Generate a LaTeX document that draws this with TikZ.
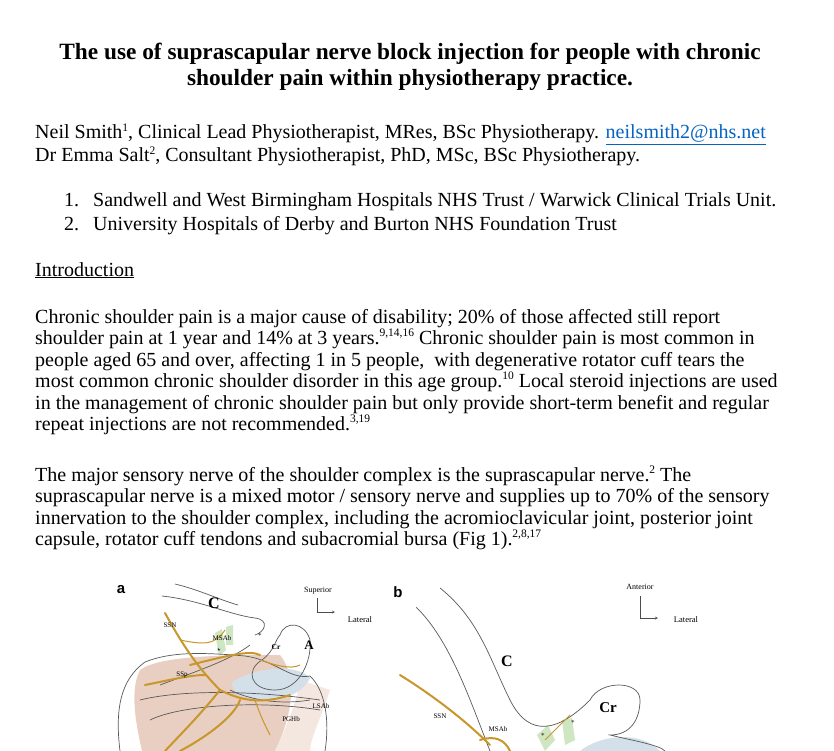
\documentclass[tikz,border=0pt]{standalone}
\usepackage{fontspec}
\setmainfont{Liberation Serif}
\newfontfamily\arialf{Liberation Sans}
\newcommand\myul[1]{$\underline{\hbox{#1}}$}
\newcommand\sps[1]{\raisebox{0.36em}{\fontsize{11.5}{11.5}\selectfont #1}}
\begin{document}
\begin{tikzpicture}[x=1pt,y=-1pt,
  tl/.style={anchor=base west,inner sep=0pt,text height=12pt,text depth=3pt,font=\fontsize{20}{22}\selectfont},
  ttl/.style={anchor=base,inner sep=0pt,font=\fontsize{23.3}{26}\selectfont\bfseries},
  outline/.style={draw=black!65,line width=0.7pt},
  nerve/.style={draw=nerveC,line width=2pt,line cap=round},
  twig/.style={draw=nerveC,line width=1pt},
  tiny/.style={inner sep=0pt,font=\fontsize{7}{7}\selectfont},
  big/.style={inner sep=0pt,font=\fontsize{16}{16}\selectfont\bfseries}]
\definecolor{linkC}{HTML}{0563C1}
\definecolor{nerveC}{HTML}{C8962A}
\definecolor{pinkC}{HTML}{E8CFC2}
\definecolor{blueC}{HTML}{D3E0EA}
\definecolor{greenC}{HTML}{CFE6C2}
\useasboundingbox (0,0) rectangle (834,751);
\fill[white] (0,0) rectangle (834,751);
% title
\node[ttl] (t1) at (410,60) {The use of suprascapular nerve block injection for people with chronic};
\node[ttl] (t2) at (410,86) {shoulder pain within physiotherapy practice.};
% authors
\node[tl] (a1) at (35,139) {Neil Smith\sps{1}, Clinical Lead Physiotherapist, MRes, BSc Physiotherapy. \textcolor{linkC}{\myul{neilsmith2@nhs.net}}};
\node[tl] (a2) at (35,162) {Dr Emma Salt\sps{2}, Consultant Physiotherapist, PhD, MSc, BSc Physiotherapy.};
\node[tl] (n1) at (64,207) {1.};
\node[tl] (l1) at (93,207) {Sandwell and West Birmingham Hospitals NHS Trust / Warwick Clinical Trials Unit.};
\node[tl] (n2) at (64,230) {2.};
\node[tl] (l2) at (93,230) {University Hospitals of Derby and Burton NHS Foundation Trust};
\node[tl] (intro) at (35,276) {\myul{Introduction}};
% paragraph 1
\node[tl] (p1) at (35,323) {Chronic shoulder pain is a major cause of disability; 20\% of those affected still report};
\node[tl] (p2) at (35,344) {shoulder pain at 1 year and 14\% at 3 years.\sps{9,14,16} Chronic shoulder pain is most common in};
\node[tl] (p3) at (35,366) {people aged 65 and over, affecting 1 in 5 people,\ \ with degenerative rotator cuff tears the};
\node[tl] (p4) at (35,387) {most common chronic shoulder disorder in this age group.\sps{10} Local steroid injections are used};
\node[tl] (p5) at (35,409) {in the management of chronic shoulder pain but only provide short-term benefit and regular};
\node[tl] (p6) at (35,430) {repeat injections are not recommended.\sps{3,19}};
% paragraph 2
\node[tl] (q1) at (35,481) {The major sensory nerve of the shoulder complex is the suprascapular nerve.\sps{2} The};
\node[tl] (q2) at (35,502) {suprascapular nerve is a mixed motor / sensory nerve and supplies up to 70\% of the sensory};
\node[tl] (q3) at (35,524) {innervation to the shoulder complex, including the acromioclavicular joint, posterior joint};
\node[tl] (q4) at (35,545) {capsule, rotator cuff tendons and subacromial bursa (Fig 1).\sps{2,8,17}};
% ---------- figure a ----------
\begin{scope}
\clip (100,575) rectangle (834,751);
\fill[pinkC] (142,751) .. controls (135,720) and (130,690) .. (140,670) .. controls (160,655) and (230,655) .. (280,655) .. controls (300,680) and (290,720) .. (275,751) -- cycle;
\fill[pinkC!50] (275,751) .. controls (290,720) and (300,690) .. (300,680) -- (330,690) .. controls (320,720) and (310,740) .. (310,751) -- cycle;
\fill[blueC] (232,682) .. controls (260,665) and (300,665) .. (310,678) .. controls (305,690) and (290,697) .. (280,698) .. controls (255,700) and (232,700) .. (232,682) -- cycle;
\fill[greenC] (215,633) -- (222,629) -- (226,650) -- (219,656) -- cycle;
\fill[greenC] (226,627) -- (233,625) -- (233,645) -- (226,645) -- cycle;
\draw[outline] (120,751) .. controls (115,710) and (120,680) .. (145,662) .. controls (170,652) and (200,652) .. (245,656) .. controls (275,660) and (290,680) .. (310,676) .. controls (325,690) and (330,720) .. (325,751);
\draw[outline] (140,700) .. controls (180,690) and (250,690) .. (320,700);
\draw[outline] (150,720) .. controls (180,705) and (260,700) .. (320,710);
\draw[outline] (162,596) .. controls (200,600) and (230,615) .. (255,618) .. controls (270,620) and (265,632) .. (255,635);
\draw[outline] (175,584) .. controls (200,590) and (220,600) .. (238,605);
\draw[outline] (280,635) .. controls (285,620) and (305,622) .. (310,640) .. controls (312,660) and (300,690) .. (275,690) .. controls (250,690) and (245,670) .. (262,660) .. controls (275,650) and (275,640) .. (280,635) -- cycle;
\draw[outline] (160,685) .. controls (200,670) and (230,660) .. (250,645);
\draw[outline] (230,690) .. controls (250,700) and (280,705) .. (310,700);
\draw[nerve] (165,613) .. controls (180,640) and (195,665) .. (220,690) .. controls (240,700) and (260,705) .. (290,695);
\draw[nerve] (190,665) .. controls (230,655) and (250,650) .. (260,655);
\draw[nerve] (145,685) .. controls (170,680) and (190,675) .. (205,675);
\draw[nerve] (240,700) .. controls (235,715) and (210,735) .. (180,751);
\draw[nerve] (220,690) .. controls (200,715) and (180,735) .. (165,751);
\draw[twig] (180,640) .. controls (205,645) and (215,645) .. (225,630);
\draw[twig] (260,660) .. controls (275,665) and (290,670) .. (300,665);
\draw[twig] (255,700) .. controls (260,715) and (265,725) .. (270,735);
\node[font=\arialf\bfseries\fontsize{15}{15}\selectfont,inner sep=0pt] (la) at (121,590) {a};
\node[tiny,font=\fontsize{8}{8}\selectfont] (sup) at (318,591) {Superior};
\coordinate (ca) at (317,612);
\draw[black!70,-stealth,line width=0.4pt] (317,598) -- (ca) -- ++(18,0);
\node[tiny,font=\fontsize{8.5}{9}\selectfont] (lat) at (360,620) {Lateral};
\node[big] (C) at (214,603) {C};
\node[big,font=\fontsize{13}{13}\selectfont\bfseries] (A) at (309,645) {A};
\node[tiny,font=\fontsize{7.5}{7}\selectfont\bfseries] (Cr) at (276,647) {Cr};
\node[tiny] (ssn) at (170,625) {SSN};
\node[tiny] (msab) at (222,638) {MSAb};
\node[tiny] (ssp) at (182,675) {SSp};
\node[tiny] (lsab) at (321,706) {LSAb};
\node[tiny] (pghb) at (291,719) {PGHb};
\node[tiny] (st1) at (219,650) {$\star$};
\node[tiny] (st2) at (260,635) {$\ast$};
% ---------- figure b ----------
\fill[greenC] (537,735) -- (548,725) -- (555,740) -- (545,751) -- cycle;
\fill[greenC] (562,720) -- (572,718) -- (575,740) -- (565,745) -- cycle;
\fill[blueC] (580,751) .. controls (600,735) and (640,730) .. (660,751) -- cycle;
\draw[outline] (416,607) .. controls (450,640) and (470,700) .. (490,751);
\draw[outline] (440,588) .. controls (480,620) and (490,660) .. (510,700) .. controls (530,740) and (560,730) .. (590,700) .. controls (600,680) and (640,680) .. (640,700) .. controls (640,720) and (630,735) .. (610,735) .. controls (630,740) and (660,745) .. (665,751);
\draw[nerve] (400,675) .. controls (440,700) and (470,725) .. (490,745);
\draw[nerve] (480,740) .. controls (495,735) and (505,740) .. (510,751);
\draw[twig] (545,740) .. controls (555,730) and (565,720) .. (570,715);
\node[font=\arialf\bfseries\fontsize{15}{15}\selectfont,inner sep=0pt] (lb) at (398,592) {b};
\node[tiny,font=\fontsize{8}{8}\selectfont] (ant) at (640,587) {Anterior};
\coordinate (cb) at (640,618);
\draw[black!70,-stealth,line width=0.4pt] (640,596) -- (cb) -- ++(18,0);
\node[tiny,font=\fontsize{8.5}{9}\selectfont] (latb) at (686,620) {Lateral};
\node[big] (Cb) at (507,661) {C};
\node[big,font=\fontsize{15}{15}\selectfont\bfseries] (Crb) at (608,708) {Cr};
\node[tiny] (ssnb) at (440,716) {SSN};
\node[tiny] (msabb) at (498,729) {MSAb};
\node[tiny] (d1) at (543,735) {$\ast$};
\node[tiny] (d2) at (573,722) {$\ast$};
\end{scope}
\end{tikzpicture}
\end{document}
